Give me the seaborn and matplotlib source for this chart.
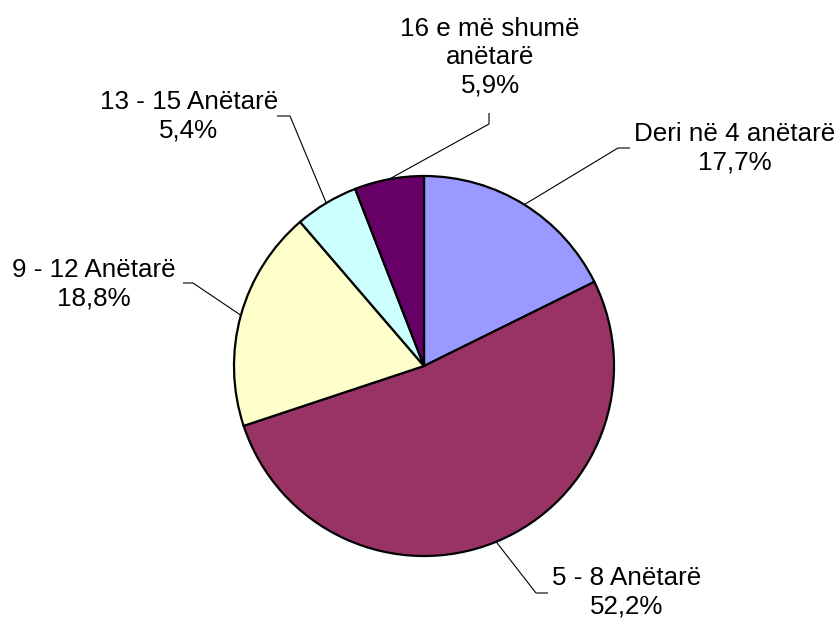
import numpy as np
import matplotlib
matplotlib.use("Agg")
import matplotlib.pyplot as plt
import seaborn as sns

categories = ["Deri në 4 anëtarë", "5 - 8 Anëtarë", "9 - 12 Anëtarë",
              "13 - 15 Anëtarë", "16 e më shumë\nanëtarë"]
values = [17.7, 52.2, 18.8, 5.4, 5.9]
pct_labels = ["17,7%", "52,2%", "18,8%", "5,4%", "5,9%"]
colors = ["#9999FF", "#993366", "#FFFFCC", "#CCFFFF", "#660066"]

sns.set_theme(style="white")
plt.rcParams["font.family"] = ["Liberation Sans", "DejaVu Sans"]

W, H = 839, 620
fig = plt.figure(figsize=(W / 100, H / 100), dpi=100)
ax = fig.add_axes([0, 0, 1, 1])

cx, cy, R = 424, H - 366, 190
wedges, _ = ax.pie(values, colors=colors, startangle=90, counterclock=False,
                   center=(cx, cy), radius=R, frame=True,
                   wedgeprops=dict(edgecolor="black", linewidth=1.6))
ax.set_xlim(0, W)
ax.set_ylim(0, H)
ax.set_aspect("equal")
ax.axis("off")

# label layout (pixel coords from top): text centre, leader elbow path
text_pos = [(735, 148), (627, 592), (94, 284), (189, 116), (490, 57)]
elbows = [
    [(630, 148), (618, 148)],
    [(548, 593), (536, 593)],
    [(183, 283), (193, 283)],
    [(277, 116), (290, 116)],
    [(489, 113), (489, 124)],
]

for w, cat, pct, tp, el in zip(wedges, categories, pct_labels, text_pos, elbows):
    ang = np.deg2rad((w.theta1 + w.theta2) / 2)
    ex = cx + R * np.cos(ang)
    ey = cy + R * np.sin(ang)
    xs = [p[0] for p in el] + [ex]
    ys = [H - p[1] for p in el] + [ey]
    ax.plot(xs, ys, color="black", linewidth=0.8, solid_capstyle="butt")
    ax.text(tp[0], H - tp[1], f"{cat}\n{pct}", ha="center", va="center",
            fontsize=18.7, linespacing=1.22, color="black")

fig.savefig("out.png", dpi=100)
